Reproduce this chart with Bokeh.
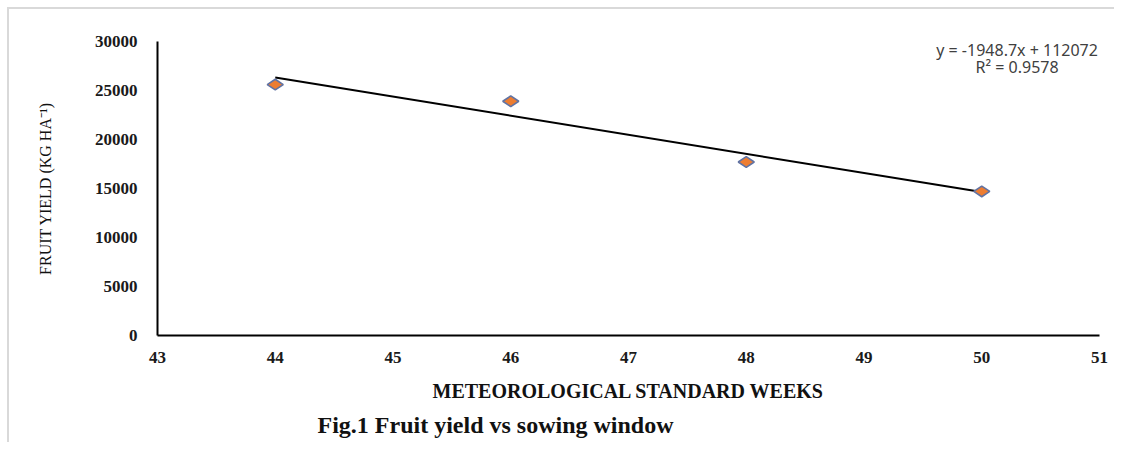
from bokeh.plotting import figure
from bokeh.models import Label, Title, FixedTicker, NumeralTickFormatter
from bokeh.embed import file_html
from bokeh.resources import INLINE
import math

# ---- data ----
weeks = [44, 46, 48, 50]
fruit_yield = [25600, 23900, 17700, 14700]
x_ticks = [43, 44, 45, 46, 47, 48, 49, 50, 51]
y_ticks = [0, 5000, 10000, 15000, 20000, 25000, 30000]
trend_slope = -1948.7
trend_intercept = 112072
r_squared = 0.9578

eq_text = "y = -1948.7x + 112072"
r2_text = "R\u00b2 = 0.9578"
x_label = "METEOROLOGICAL STANDARD WEEKS"
y_label = "FRUIT YIELD (KG HA\u207b\u00b9)"
title_text = "Fig.1  Fruit yield vs sowing window"

p = figure(
    frame_width=942, frame_height=294,
    min_border_left=148, min_border_top=32, min_border_right=15, min_border_bottom=102,
    x_range=(43, 51), y_range=(0, 30000),
    output_backend="svg", toolbar_location=None,
    background_fill_color="white", border_fill_color="white",
)
p.styles = {"border-left": "2px solid #d9d9d9", "border-top": "2px solid #d9d9d9",
            "margin-left": "7px", "margin-top": "7px"}
p.outline_line_color = None
p.grid.visible = False

# trend line from equation
tx = [min(weeks), max(weeks)]
ty = [trend_slope * v + trend_intercept for v in tx]
p.line(tx, ty, line_color="black", line_width=2)

p.scatter(weeks, fruit_yield, marker="diamond", angle=math.pi / 2, size=16,
          fill_color="#ED7D31", line_color="#6173A3", line_width=1.6)

# axes
for ax in (p.xaxis[0], p.yaxis[0]):
    ax.axis_line_color = "black"
    ax.axis_line_width = 2
    ax.major_tick_out = 0
    ax.major_tick_in = 0
    ax.minor_tick_out = 0
    ax.minor_tick_in = 0
    ax.major_label_text_font = "Liberation Serif"
    ax.major_label_text_font_style = "bold"
    ax.major_label_text_font_size = "17px"
    ax.major_label_text_color = "#1a1a1a"

p.xaxis[0].ticker = FixedTicker(ticks=x_ticks)
p.xaxis[0].major_label_standoff = 16
p.xaxis[0].axis_label = x_label
p.xaxis[0].axis_label_text_font = "Liberation Serif"
p.xaxis[0].axis_label_text_font_style = "bold"
p.xaxis[0].axis_label_text_font_size = "20px"
p.xaxis[0].axis_label_text_color = "#111111"
p.xaxis[0].axis_label_standoff = 14

p.yaxis[0].ticker = FixedTicker(ticks=y_ticks)
p.yaxis[0].formatter = NumeralTickFormatter(format="0")
p.yaxis[0].major_label_standoff = 20
p.yaxis[0].axis_label = y_label
p.yaxis[0].axis_label_text_font = "Liberation Serif"
p.yaxis[0].axis_label_text_font_style = "normal"
p.yaxis[0].axis_label_text_font_size = "16px"
p.yaxis[0].axis_label_text_color = "#111111"
p.yaxis[0].axis_label_standoff = 38

# equation labels
p.add_layout(Label(x=50.3, y=29180, text=eq_text, text_align="center", text_baseline="middle",
                   text_font="Noto Sans", text_font_size="16px", text_color="#404040"))
p.add_layout(Label(x=50.3, y=27350, text=r2_text, text_align="center", text_baseline="middle",
                   text_font="Noto Sans", text_font_size="16px", text_color="#404040"))

# figure caption below
cap = Title(text=title_text, align="left", offset=160, standoff=10,
            text_font="Liberation Serif", text_font_style="bold", text_font_size="24px",
            text_color="#111111")
p.add_layout(cap, "below")

open("out.html", "w").write(file_html(p, INLINE))
